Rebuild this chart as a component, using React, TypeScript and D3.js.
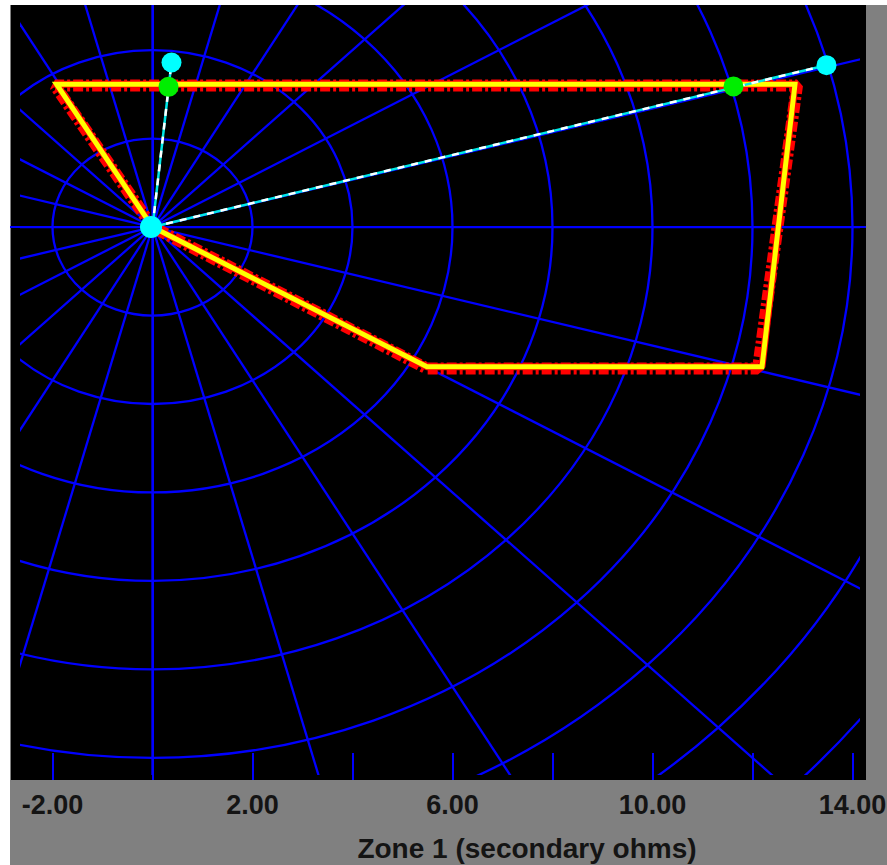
import * as d3 from 'd3';

const W = 887;
const H = 865;

// axis extents in secondary ohms
const xDomain: [number, number] = [-2.85, 14.27];
const yDomain: [number, number] = [-12.5, 5.02];

const tickValues = [-2, 0, 2, 4, 6, 8, 10, 12, 14];
const labelValues = [-2, 2, 6, 10, 14];

const circleRadii = [2, 4, 6, 8, 10, 12, 14, 16, 18];
const spokeAngles = d3.range(0, 360, 15);

// zone 1 quadrilateral (R, X)
const zone1: [number, number][] = [
  [0, 0],
  [-1.92, 3.23],
  [12.85, 3.23],
  [12.19, -3.16],
  [5.49, -3.16],
  [0, 0],
];

// second (dash-dot) zone 1 outline
const zone1Set: [number, number][] = [
  [0, 0],
  [-1.95, 3.2],
  [12.89, 3.2],
  [12.11, -3.2],
  [5.49, -3.2],
  [0, 0],
];

// impedance trajectories: end point and point where they reach the zone
const traceEnds: [number, number][] = [
  [0.38, 3.72],
  [13.48, 3.66],
];
const traceHits: [number, number][] = [
  [0.32, 3.17],
  [11.62, 3.18],
];

const plot = { left: 10, right: 866, top: 5, bottom: 780 };
const gridClip = { left: 20, right: 860, top: 5, bottom: 775 };

export default function App() {
  const x = d3.scaleLinear().domain(xDomain).range([plot.left, plot.right]);
  const y = d3.scaleLinear().domain(yDomain).range([plot.bottom, plot.top]);
  const cx = x(0);
  const cy = y(0);

  const line = d3
    .line<[number, number]>()
    .x((d) => x(d[0]))
    .y((d) => y(d[1]));

  const far = 40;
  const blue = '#0000ff';

  return (
    <div style={{ position: 'fixed', left: 0, top: 0 }}>
      <svg width={W} height={H} style={{ display: 'block', background: '#ffffff' }}>
        <defs>
          <clipPath id="grid-clip">
            <rect
              x={gridClip.left}
              y={gridClip.top}
              width={gridClip.right - gridClip.left}
              height={gridClip.bottom - gridClip.top}
            />
          </clipPath>
          <clipPath id="plot-clip">
            <rect x={plot.left} y={plot.top} width={plot.right - plot.left} height={plot.bottom - plot.top} />
          </clipPath>
        </defs>

        <rect x={plot.left} y={plot.top} width={W - plot.left} height={H - plot.top} fill="#808080" />
        <rect
          x={plot.left + 1}
          y={plot.top}
          width={plot.right - plot.left - 1}
          height={plot.bottom - plot.top}
          fill="#000000"
        />

        <g clipPath="url(#grid-clip)" fill="none" stroke={blue} strokeWidth={2.3}>
          {circleRadii.map((r) => (
            <ellipse key={r} cx={cx} cy={cy} rx={x(r) - cx} ry={cy - y(r)} />
          ))}
          {spokeAngles.map((a) => {
            const t = (a * Math.PI) / 180;
            return <line key={a} x1={cx} y1={cy} x2={x(far * Math.cos(t))} y2={y(far * Math.sin(t))} />;
          })}
        </g>

        <g clipPath="url(#plot-clip)" stroke={blue} strokeWidth={2} shapeRendering="crispEdges">
          <line x1={plot.left} x2={plot.right} y1={cy} y2={cy} />
          <line x1={cx} x2={cx} y1={plot.top} y2={plot.bottom} />
          {tickValues.map((v) => (
            <line key={v} x1={x(v)} x2={x(v)} y1={plot.bottom - 27} y2={plot.bottom} />
          ))}
        </g>

        <g clipPath="url(#plot-clip)" fill="none">
          <path
            d={line(zone1Set) ?? ''}
            stroke="#ff0000"
            strokeWidth={12}
            strokeDasharray="10 3 3 3"
            strokeLinejoin="bevel"
          />
          <path d={line(zone1) ?? ''} stroke="#ff0000" strokeWidth={7} strokeLinejoin="bevel" />
          <path d={line(zone1) ?? ''} stroke="#ffff00" strokeWidth={5} strokeLinejoin="miter" />

          {traceEnds.map((e, i) => (
            <g key={i}>
              <line x1={cx} y1={cy} x2={x(e[0])} y2={y(e[1])} stroke="#00e8e8" strokeWidth={2.5} />
              <line
                x1={cx}
                y1={cy}
                x2={x(e[0])}
                y2={y(e[1])}
                stroke="#ffffff"
                strokeWidth={2.5}
                strokeDasharray="7 7"
              />
            </g>
          ))}
          {traceHits.map((h, i) => (
            <circle key={`h${i}`} cx={x(h[0])} cy={y(h[1])} r={10} fill="#00ee00" />
          ))}
          {traceEnds.map((e, i) => (
            <circle key={`e${i}`} cx={x(e[0])} cy={y(e[1])} r={10} fill="#00ffff" />
          ))}
          <circle cx={cx - 1.5} cy={cy} r={11} fill="#00ffff" />
        </g>

        <g
          fontFamily="'Liberation Sans', Arial, sans-serif"
          fontWeight="bold"
          fill="#141414"
          textAnchor="middle"
        >
          {labelValues.map((v) => (
            <text key={v} x={x(v)} y={814} fontSize={27}>
              {v.toFixed(2)}
            </text>
          ))}
          <text x={527} y={858} fontSize={28}>
            Zone 1 (secondary ohms)
          </text>
        </g>
      </svg>
    </div>
  );
}
